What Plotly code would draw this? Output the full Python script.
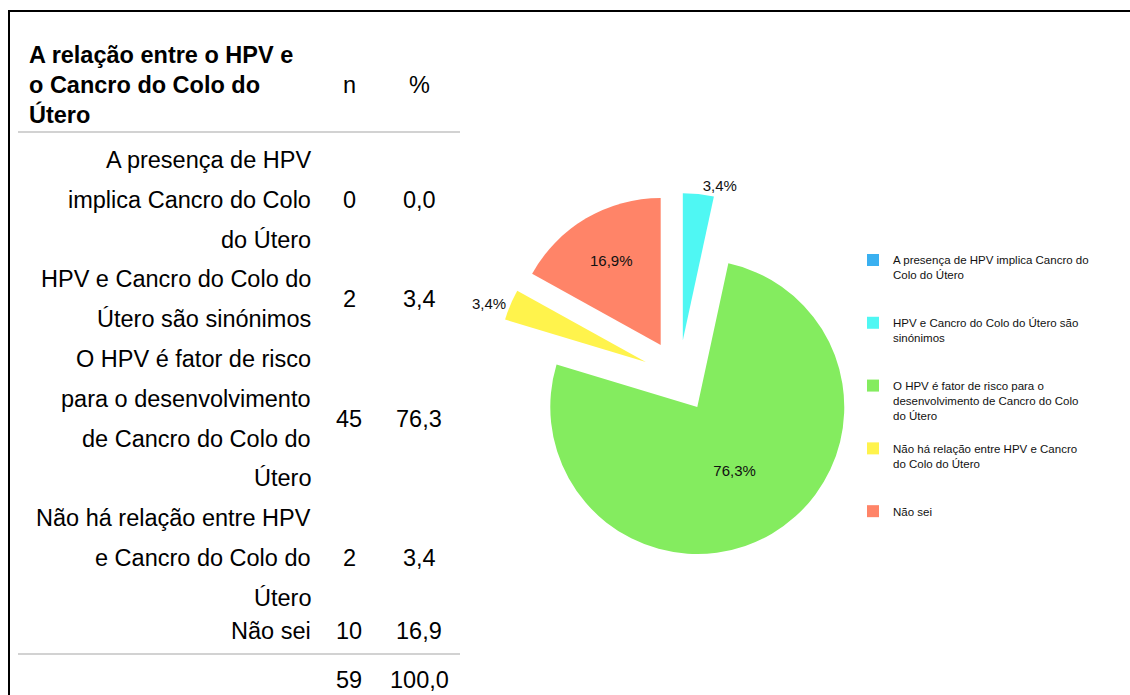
import plotly.graph_objects as go

# ---------------- data ----------------
categories = [
    "A presença de HPV implica Cancro do Colo do Útero",
    "HPV e Cancro do Colo do Útero são sinónimos",
    "O HPV é fator de risco para o desenvolvimento de Cancro do Colo do Útero",
    "Não há relação entre HPV e Cancro do Colo do Útero",
    "Não sei",
]
n_values = [0, 2, 45, 2, 10]
pct_values = [0.0, 3.4, 76.3, 3.4, 16.9]
n_total = 59
pct_total = 100.0

table_title_lines = ["A relação entre o HPV e", "o Cancro do Colo do", "Útero"]
table_label_lines = [
    ["A presença de HPV", "implica Cancro do Colo", "do Útero"],
    ["HPV e Cancro do Colo do", "Útero são sinónimos"],
    ["O HPV é fator de risco", "para o desenvolvimento", "de Cancro do Colo do", "Útero"],
    ["Não há relação entre HPV", "e Cancro do Colo do", "Útero"],
    ["Não sei"],
]
legend_label_lines = [
    ["A presença de HPV implica Cancro do", "Colo do Útero"],
    ["HPV e Cancro do Colo do Útero são", "sinónimos"],
    ["O HPV é fator de risco para o", "desenvolvimento de Cancro do Colo", "do Útero"],
    ["Não há relação entre HPV e Cancro", "do Colo do Útero"],
    ["Não sei"],
]
slice_colors = ["#3AB0F0", "#4FF7F3", "#84EC5F", "#FFF34C", "#FF8468"]


def fmt(v):
    return f"{v:.1f}".replace(".", ",")


# ---------------- figure ----------------
W, H = 1130, 695
FONT = "Liberation Sans, Arial, Helvetica, sans-serif"
TFS = 23.5  # table font size


def px(x):
    return x / W


def py(y):
    return 1 - y / H


legend_names = []
for lines in legend_label_lines:
    padded = lines + ["&nbsp;"] * (4 - len(lines))
    legend_names.append("<br>".join(padded))

slice_text = [(fmt(p) + "%") if p > 0 else "" for p in pct_values]
text_pos = ["none", "outside", "inside", "outside", "inside"]

fig = go.Figure()
fig.add_trace(go.Pie(
    labels=legend_names,
    values=n_values,
    text=slice_text,
    textinfo="text",
    textposition=text_pos,
    sort=False,
    direction="clockwise",
    rotation=0,
    pull=[0.245] * len(n_values),
    marker=dict(colors=slice_colors, line=dict(width=0)),
    textfont=dict(family=FONT, size=15, color="#111111"),
    insidetextorientation="horizontal",
    domain=dict(x=[px(496), px(862)], y=[py(559), py(193)]),
    hoverinfo="skip",
    showlegend=True,
))

annotations = []
shapes = []


def ann(x, y, text, anchor, size=TFS):
    annotations.append(dict(x=px(x), y=py(y), xref="paper", yref="paper", text=text,
                            showarrow=False, xanchor=anchor, yanchor="middle",
                            font=dict(family=FONT, size=size, color="#000")))


# header
for i, t in enumerate(table_title_lines):
    ann(27, 55 + i * 30, f"<b>{t}</b>", "left")
ann(349, 85, "n", "center")
ann(419, 85, "%", "center")

# rows
y = 160.0
pitch = 39.8
for r, lines in enumerate(table_label_lines):
    if r == len(table_label_lines) - 1:
        y = y - pitch + 33
    ys = []
    for t in lines:
        ann(313, y, t, "right")
        ys.append(y)
        y += pitch
    yc = sum(ys) / len(ys)
    ann(349, yc, str(n_values[r]), "center")
    ann(419, yc, fmt(pct_values[r]), "center")

# totals
ann(349, 680, str(n_total), "center")
ann(419, 680, fmt(pct_total), "center")

# table rules
for yy in (132, 654):
    shapes.append(dict(type="line", xref="paper", yref="paper", x0=px(18), x1=px(460),
                       y0=py(yy), y1=py(yy), line=dict(color="#D2D2D2", width=2)))
# frame
shapes.append(dict(type="line", xref="paper", yref="paper", x0=px(8), x1=1,
                   y0=py(11), y1=py(11), line=dict(color="#000", width=2)))
shapes.append(dict(type="line", xref="paper", yref="paper", x0=px(9), x1=px(9),
                   y0=py(10), y1=0, line=dict(color="#000", width=2)))

fig.update_layout(
    width=W, height=H,
    margin=dict(l=0, r=0, t=0, b=0),
    paper_bgcolor="white", plot_bgcolor="white",
    annotations=annotations,
    shapes=shapes,
    legend=dict(x=px(853), y=py(246), xanchor="left", yanchor="top",
                font=dict(family=FONT, size=11.5, color="#111"),
                valign="top", itemwidth=30, tracegroupgap=0,
                bgcolor="rgba(0,0,0,0)"),
)

fig.write_html("out.html", config={"displayModeBar": False},
               post_script="document.body.style.margin='0';document.body.style.overflow='hidden';")
